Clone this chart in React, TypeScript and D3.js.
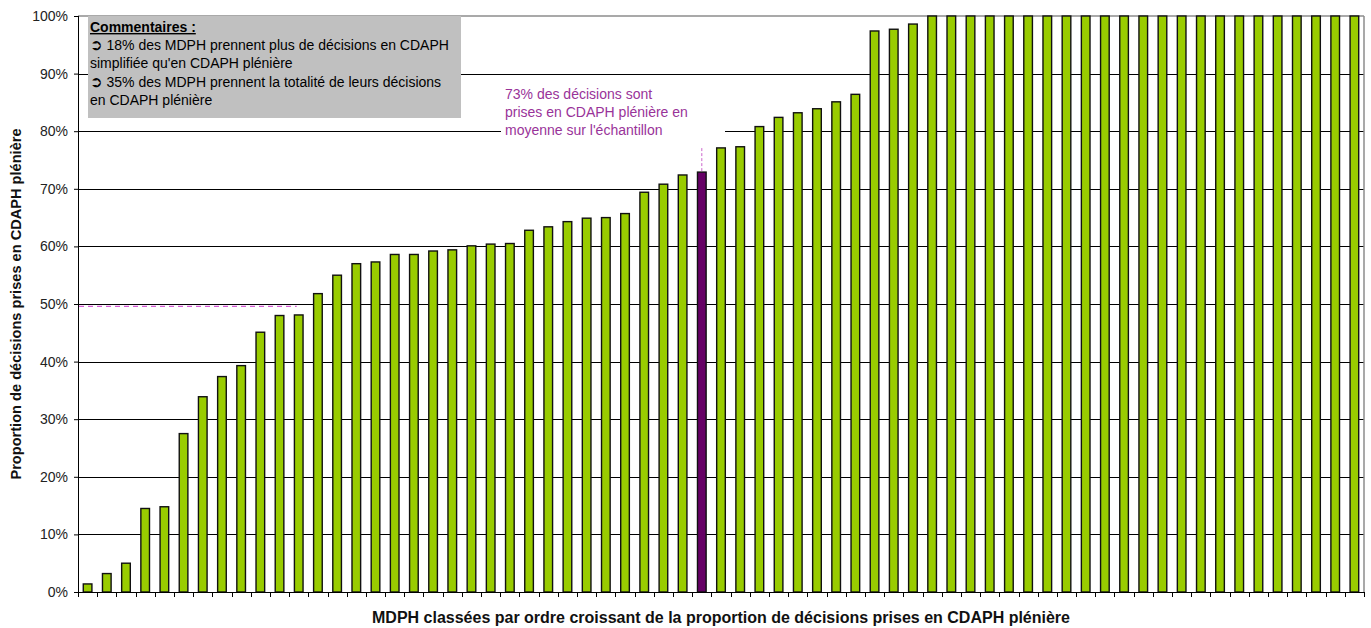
import { useEffect, useRef } from "react";
import * as d3 from "d3";

// proportion de décisions prises en CDAPH plénière, MDPH triées par ordre croissant
const VALUES = [
  1.4, 3.2, 5.0, 14.5, 14.8, 27.5, 33.9, 37.4, 39.3, 45.1, 48.0, 48.1, 51.8, 55.0, 57.0, 57.3,
  58.6, 58.6, 59.2, 59.4, 60.1, 60.4, 60.5, 62.8, 63.4, 64.3, 64.9, 65.0, 65.7, 69.4, 70.8, 72.4,
  72.9, 77.1, 77.3, 80.8, 82.4, 83.2, 83.9, 85.1, 86.4, 97.4, 97.7, 98.6,
  100, 100, 100, 100, 100, 100, 100, 100, 100, 100, 100, 100, 100, 100, 100, 100, 100, 100, 100,
  100, 100, 100, 100,
];
const MEAN_INDEX = 32; // barre "moyenne" (73 %)
const HALF_LINE = 49.6;
const HALF_LINE_END = 11; // dernière MDPH sous 50 %
const Y_TICKS = [0, 10, 20, 30, 40, 50, 60, 70, 80, 90, 100];
const ARROW = "➲";
const COMMENT_LINES = [
  { arrow: true, text: " 18% des MDPH prennent plus de décisions en CDAPH" },
  { arrow: false, text: "simplifiée qu'en CDAPH plénière" },
  { arrow: true, text: " 35% des MDPH prennent la totalité de leurs décisions" },
  { arrow: false, text: "en CDAPH plénière" },
];
const NOTE_LINES = [
  "73% des décisions sont",
  "prises en CDAPH plénière en",
  "moyenne sur l'échantillon",
];

const W = 1371;
const H = 628;
const M = { top: 16, right: 7, bottom: 36, left: 78 };
const FONT = "Liberation Sans, Arial, sans-serif";
const GREEN = "#99cc00";
const PURPLE = "#660066";
const NOTE = "#993399";

export default function App() {
  const svgRef = useRef<SVGSVGElement>(null);

  useEffect(() => {
    const svg = d3.select(svgRef.current);
    svg.selectAll("*").remove();

    const innerW = W - M.left - M.right;
    const innerH = H - M.top - M.bottom;
    const idx = VALUES.map((_, i) => i);

    const x = d3.scaleBand<number>().domain(idx).range([0, innerW]).paddingInner(0.55).paddingOuter(0.275);
    const step = x.step();
    const y = d3.scaleLinear().domain([0, 100]).range([innerH, 0]);

    const g = svg.append("g").attr("transform", `translate(${M.left},${M.top})`);

    // grille
    g.append("g")
      .selectAll("line")
      .data(Y_TICKS.filter((t) => t > 0 && t < 100))
      .enter()
      .append("line")
      .attr("x1", 0)
      .attr("x2", innerW)
      .attr("y1", (d) => Math.round(y(d)) + 0.5)
      .attr("y2", (d) => Math.round(y(d)) + 0.5)
      .attr("stroke", "#000")
      .attr("stroke-width", 1);

    // cadre
    g.append("line")
      .attr("x1", 0).attr("x2", innerW)
      .attr("y1", y(100)).attr("y2", y(100))
      .attr("stroke", "#8c8c8c").attr("stroke-width", 1.5);
    g.append("line")
      .attr("x1", innerW).attr("x2", innerW)
      .attr("y1", y(100)).attr("y2", innerH)
      .attr("stroke", "#8c8c8c").attr("stroke-width", 1.5);

    // cadre blanc derrière l'annotation
    g.append("rect")
      .attr("x", 501 - M.left)
      .attr("y", 80 - M.top)
      .attr("width", 224)
      .attr("height", 60)
      .attr("fill", "#fff");

    // barres
    g.append("g")
      .selectAll("rect")
      .data(VALUES)
      .enter()
      .append("rect")
      .attr("x", (_, i) => (x(i) ?? 0))
      .attr("y", (d) => y(d))
      .attr("width", x.bandwidth())
      .attr("height", (d) => innerH - y(d))
      .attr("fill", (_, i) => (i === MEAN_INDEX ? PURPLE : GREEN))
      .attr("stroke", "#111")
      .attr("stroke-width", 1.4);

    // ligne pointillée 50 %
    g.append("line")
      .attr("x1", 1)
      .attr("x2", (x(HALF_LINE_END) ?? 0) + x.bandwidth() / 2 - 2)
      .attr("y1", y(HALF_LINE))
      .attr("y2", y(HALF_LINE))
      .attr("stroke", "#cc33cc")
      .attr("stroke-width", 1)
      .attr("stroke-dasharray", "5 4");

    // ligne pointillée au-dessus de la barre moyenne
    const mx = (x(MEAN_INDEX) ?? 0) + x.bandwidth() / 2;
    g.append("line")
      .attr("x1", mx)
      .attr("x2", mx)
      .attr("y1", y(VALUES[MEAN_INDEX]) - 1)
      .attr("y2", y(77.4))
      .attr("stroke", "#cc66cc")
      .attr("stroke-width", 1)
      .attr("stroke-dasharray", "3 2");

    // axe Y
    g.append("line")
      .attr("x1", 0.5).attr("x2", 0.5)
      .attr("y1", 0).attr("y2", innerH)
      .attr("stroke", "#000");
    g.append("g")
      .call(d3.axisLeft(y).tickValues(Y_TICKS).tickSize(4).tickPadding(6).tickFormat((d) => `${d}%`))
      .call((axis) => {
        axis.select(".domain").remove();
        axis.selectAll(".tick line").attr("stroke", "#000");
        axis
          .selectAll(".tick text")
          .attr("fill", "#222")
          .attr("font-size", "14px")
          .attr("font-family", FONT);
      });

    // axe X
    const xb = g.append("g").attr("transform", `translate(0,${innerH})`);
    xb.append("line")
      .attr("x1", 0).attr("x2", innerW)
      .attr("y1", 0.5).attr("y2", 0.5)
      .attr("stroke", "#000");
    xb.selectAll("line.tick")
      .data(d3.range(VALUES.length + 1))
      .enter()
      .append("line")
      .attr("class", "tick")
      .attr("x1", (d) => Math.round(d * step) + 0.5)
      .attr("x2", (d) => Math.round(d * step) + 0.5)
      .attr("y1", 0)
      .attr("y2", 5)
      .attr("stroke", "#000");

    // titres des axes
    svg.append("text")
      .attr("x", 721)
      .attr("y", 623)
      .attr("text-anchor", "middle")
      .attr("font-family", FONT)
      .attr("font-weight", "bold")
      .attr("font-size", "16px")
      .attr("fill", "#111")
      .text("MDPH classées par ordre croissant de la proportion de décisions prises en CDAPH plénière");
    svg.append("text")
      .attr("transform", `translate(21,${M.top + innerH / 2}) rotate(-90)`)
      .attr("text-anchor", "middle")
      .attr("font-family", FONT)
      .attr("font-weight", "bold")
      .attr("font-size", "14.6px")
      .attr("fill", "#111")
      .text("Proportion de décisions prises en CDAPH plénière");

    // encadré commentaires
    svg.append("rect")
      .attr("x", 88)
      .attr("y", 16)
      .attr("width", 373)
      .attr("height", 102)
      .attr("fill", "#c0c0c0");
    svg.append("text")
      .attr("x", 90)
      .attr("y", 32)
      .attr("font-family", FONT)
      .attr("font-size", "14px")
      .attr("font-weight", "bold")
      .attr("text-decoration", "underline")
      .attr("fill", "#000")
      .text("Commentaires :");
    const lines = svg.append("g")
      .selectAll("text")
      .data(COMMENT_LINES)
      .enter()
      .append("text")
      .attr("x", 90)
      .attr("y", (_, i) => 50 + i * 18.4)
      .attr("font-family", FONT)
      .attr("font-size", "14px")
      .attr("fill", "#000");
    lines
      .filter((d) => d.arrow)
      .append("tspan")
      .attr("font-family", "DejaVu Sans, sans-serif")
      .attr("font-weight", "bold")
      .attr("font-size", "15px")
      .text(ARROW);
    lines
      .append("tspan")
      .text((d) => d.text);

    // annotation moyenne
    svg.append("g")
      .selectAll("text")
      .data(NOTE_LINES)
      .enter()
      .append("text")
      .attr("x", 505)
      .attr("y", (_, i) => 98.5 + i * 18.3)
      .attr("font-family", FONT)
      .attr("font-size", "14px")
      .attr("fill", NOTE)
      .text((d) => d);
  }, []);

  return (
    <svg
      ref={svgRef}
      width={W}
      height={H}
      style={{ position: "absolute", left: 0, top: 0, background: "#fff" }}
    />
  );
}
